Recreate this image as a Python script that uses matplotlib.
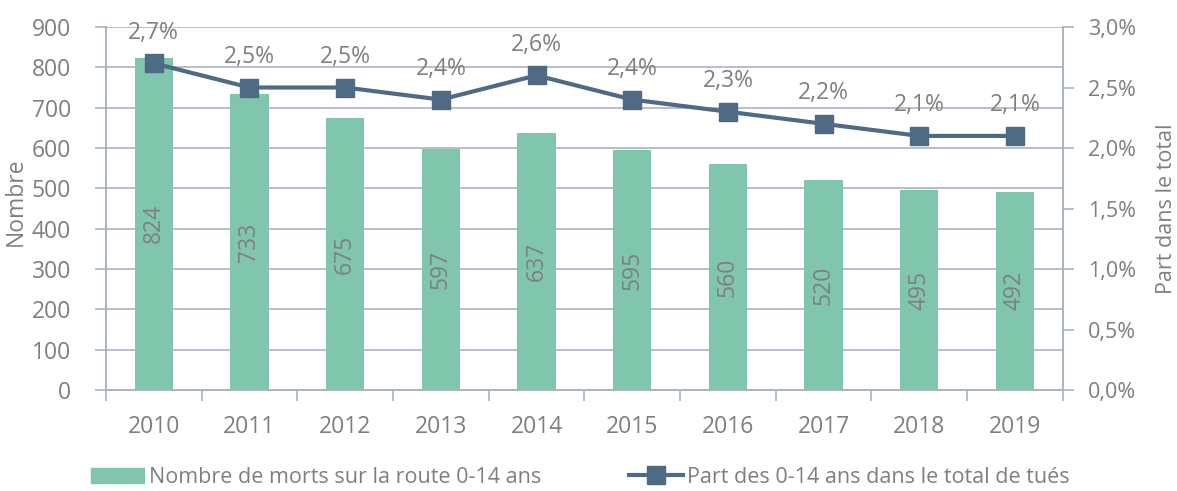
import numpy as np
import matplotlib
matplotlib.use("Agg")
import matplotlib.pyplot as plt
from matplotlib.ticker import FixedLocator, FuncFormatter
from matplotlib.patches import Patch
from matplotlib.lines import Line2D

plt.rcParams['font.family'] = ['Open Sans', 'DejaVu Sans']

years = ["2010", "2011", "2012", "2013", "2014", "2015", "2016", "2017", "2018", "2019"]
deaths = [824, 733, 675, 597, 637, 595, 560, 520, 495, 492]
share = [2.7, 2.5, 2.5, 2.4, 2.6, 2.4, 2.3, 2.2, 2.1, 2.1]

bar_color = "#7FC6AC"
line_color = "#4F6A85"
axis_color = "#A9B4C2"
text_color = "#7F7F7F"
fs = 16.5

fig = plt.figure(figsize=(11.77, 4.91), dpi=100)
ax = fig.add_axes([0.090, 0.2057, 0.813, 0.7393])
ax2 = ax.twinx()

x = np.arange(len(years))
bars = ax.bar(x, deaths, width=0.4, color=bar_color, zorder=2)
ax.bar_label(bars, labels=[str(v) for v in deaths], label_type="center",
             rotation=90, color=text_color, fontsize=fs)

ax.set_ylim(0, 900)
ax.set_yticks(range(0, 1000, 100))
ax.set_xlim(-0.5, len(years) - 0.5)
ax.set_xticks(x)
ax.set_xticklabels(years)
ax.xaxis.set_minor_locator(FixedLocator(np.arange(-0.5, len(years), 1)))
ax.tick_params(axis="x", which="major", length=0, pad=18, labelsize=fs, labelcolor=text_color)
ax.tick_params(axis="x", which="minor", length=8, color=axis_color, width=1.2)
ax.tick_params(axis="y", length=8, pad=17, color=axis_color, width=1.2, labelsize=fs, labelcolor=text_color)
ax.grid(axis="y", color=axis_color, linewidth=1.2, zorder=0)
ax.set_axisbelow(True)
ax.set_ylabel("Nombre", fontsize=fs, color=text_color)
ax.yaxis.set_label_coords(-0.082, 0.52)

ax2.plot(x, share, color=line_color, linewidth=3, marker="s", markersize=13, zorder=3)
for xi, s in zip(x, share):
    ax2.annotate(f"{s:.1f}%".replace(".", ","), (xi, s), xytext=(0, 22),
                 textcoords="offset points", ha="center", va="center",
                 fontsize=fs, color=text_color)
ax2.set_ylim(0, 3.0)
ax2.set_yticks(np.arange(0, 3.01, 0.5))
ax2.yaxis.set_major_formatter(FuncFormatter(lambda v, p: f"{v:.1f}%".replace(".", ",")))
ax2.tick_params(axis="y", length=8, pad=10, color=axis_color, width=1.2, labelsize=15.5, labelcolor=text_color)
ax2.set_ylabel("Part dans le total", fontsize=15.5, color=text_color, labelpad=14)

for a in (ax, ax2):
    a.spines["top"].set_visible(False)
    for side in ("left", "right", "bottom"):
        a.spines[side].set_color(axis_color)
        a.spines[side].set_linewidth(1.2)

handles = [Patch(color=bar_color),
           Line2D([0], [0], color=line_color, linewidth=3, marker="s", markersize=13)]
labels = ["Nombre de morts sur la route 0-14 ans", "Part des 0-14 ans dans le total de tués"]
leg = fig.legend(handles, labels, loc="center", bbox_to_anchor=(0.493, 0.028), ncol=2,
                 frameon=False, fontsize=15.5, handlelength=2.5, columnspacing=4.1,
                 handletextpad=0.2, borderpad=0)
for t in leg.get_texts():
    t.set_color(text_color)

fig.savefig("out.png", dpi=100)
